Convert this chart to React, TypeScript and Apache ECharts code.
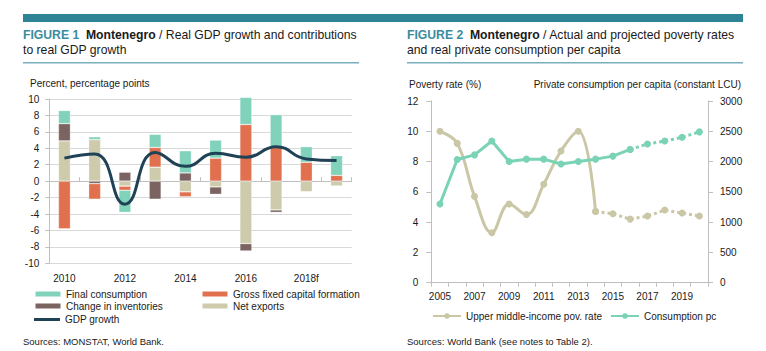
import React, { useEffect, useRef } from "react";
import * as echarts from "echarts";

// ---------- Figure 1 data ----------
const years1 = ["2010", "2011", "2012", "2013", "2014", "2015", "2016", "2017", "2018f", "2019f"];
const finalConsumption = [1.6, 0.35, -2.7, 1.6, 2.7, 2.2, 3.3, 3.9, 1.9, 2.4];
const grossFixedCapital = [-5.8, -1.9, -0.5, 2.4, -0.6, 2.8, 6.9, 4.2, 2.3, 0.7];
const changeInventories = [2.1, -0.3, 1.1, -2.2, 1.0, -0.9, -0.9, -0.3, 0, 0];
const netExports = [4.9, 5.05, -0.6, 1.7, -1.3, -0.7, -7.6, -3.5, -1.3, -0.6];
const gdpGrowth = [2.8, 3.3, -2.8, 3.5, 1.8, 3.4, 2.9, 4.2, 2.7, 2.5];

// ---------- Figure 2 data ----------
const years2 = ["2005", "2006", "2007", "2008", "2009", "2010", "2011", "2012", "2013", "2014", "2015", "2016", "2017", "2018", "2019", "2020"];
const povertyRate = [10.0, 9.2, 5.7, 3.3, 5.2, 4.5, 6.5, 8.7, 10.0, 4.7, 4.55, 4.2, 4.4, 4.8, 4.6, 4.4];
const povertyLastActual = 9; // 2014
const consumptionPc = [1300, 2035, 2110, 2340, 2000, 2040, 2040, 1960, 2000, 2040, 2090, 2200, 2290, 2340, 2400, 2490];
const consumptionLastActual = 11; // 2016

const FONT = "Liberation Sans";
const TXT = "#1a1a1a";
const C_TEAL = "#80D2BB";
const C_ORANGE = "#E0704E";
const C_BROWN = "#7B6361";
const C_TAN = "#CDCBAB";
const C_GDP = "#1F4256";
const C_POV = "#C9C7A5";
const C_CONS = "#79D3B4";
const AXIS_GRAY = "#BFBFBF";

export default function App() {
  const ref = useRef<HTMLDivElement>(null);

  useEffect(() => {
    document.body.style.margin = "0";
    const chart = echarts.init(ref.current!, undefined, { renderer: "svg" });

    const barBase = {
      type: "bar" as const,
      stack: "c",
      xAxisIndex: 0,
      yAxisIndex: 0,
      barWidth: 12,
      clip: false,
      itemStyle: { borderColor: "rgba(255,255,255,0.5)", borderWidth: 0.6 },
    };

    const solidPart = (arr: number[], last: number) => arr.map((v, i) => (i <= last ? v : null));
    const projPart = (arr: number[], last: number) => arr.map((v, i) => (i >= last ? v : null));

    const legendText = { fontFamily: FONT, fontSize: 10, color: TXT };
    const mkLegend = (name: string, left: number, top: number, w = 26, h = 6, extra: any = {}) => ({
      data: [name],
      left,
      top,
      itemWidth: w,
      itemHeight: h,
      itemGap: 0,
      padding: 0,
      textStyle: legendText,
      selectedMode: false,
      ...extra,
    });

    const TS = 12.2;
    const titleStyle = (txt: string) => ({
      text: txt,
      textStyle: {
        fontFamily: FONT,
        fontSize: TS,
        fontWeight: "normal" as const,
        color: TXT,
        lineHeight: 15,
        rich: {
          a: { color: "#3A8CA0", fontWeight: "bold" as const, fontSize: TS, fontFamily: FONT, lineHeight: 15 },
          b: { color: TXT, fontWeight: "bold" as const, fontSize: TS, fontFamily: FONT, lineHeight: 15 },
        },
      },
    });

    const option = {
      animation: false,
      backgroundColor: "#ffffff",
      textStyle: { fontFamily: FONT },
      title: [
        { left: 23, top: 27, padding: 0, ...titleStyle("{a|FIGURE 1}  {b|Montenegro} / Real GDP growth and contributions\nto real GDP growth") },
        { left: 407, top: 27, padding: 0, ...titleStyle("{a|FIGURE 2}  {b|Montenegro} / Actual and projected poverty rates\nand real private consumption per capita") },
      ],
      graphic: [
        { type: "rect", shape: { x: 23, y: 14, width: 720, height: 8 }, style: { fill: "#2E8494" } },
        { type: "rect", shape: { x: 23, y: 62, width: 336, height: 1.5 }, style: { fill: "#78B0BE" } },
        { type: "rect", shape: { x: 407, y: 62, width: 336, height: 1.5 }, style: { fill: "#78B0BE" } },
        { type: "text", x: 30, y: 83, style: { text: "Percent, percentage points", fontFamily: FONT, fontSize: 10, fill: TXT, verticalAlign: "middle" } },
        { type: "text", x: 409, y: 84, style: { text: "Poverty rate (%)", fontFamily: FONT, fontSize: 10, fill: TXT, verticalAlign: "middle" } },
        { type: "text", x: 741, y: 84, style: { text: "Private consumption per capita (constant LCU)", fontFamily: FONT, fontSize: 10, fill: TXT, align: "right", verticalAlign: "middle" } },
        { type: "text", x: 23, y: 341, style: { text: "Sources: MONSTAT, World Bank.", fontFamily: FONT, fontSize: 9.5, fill: TXT, verticalAlign: "middle" } },
        { type: "text", x: 407, y: 341, style: { text: "Sources: World Bank (see notes to Table 2).", fontFamily: FONT, fontSize: 9.5, fill: TXT, verticalAlign: "middle" } },
      ],
      legend: [
        mkLegend("Final consumption", 34, 289),
        mkLegend("Change in inventories", 34, 301),
        mkLegend("GDP growth", 34, 314.5, 26, 3, { icon: "rect" }),
        mkLegend("Gross fixed capital formation", 201, 289),
        mkLegend("Net exports", 201, 301),
        mkLegend("Upper middle-income pov. rate", 432, 311, 28, 7),
        mkLegend("Consumption pc", 610, 311, 28, 7),
      ],
      grid: [
        { left: 49.3, right: 414.3, top: 99, bottom: 87.7 },
        { left: 431.3, right: 58, top: 101, bottom: 68.3 },
      ],
      xAxis: [
        {
          type: "category",
          gridIndex: 0,
          data: years1,
          position: "bottom",
          axisLine: { show: false, onZero: false },
          axisTick: { show: false },
          axisLabel: { interval: 1, fontFamily: FONT, fontSize: 10, color: TXT, margin: 10 },
        },
        {
          type: "category",
          gridIndex: 0,
          data: years1,
          axisLine: { show: true, onZero: true, lineStyle: { color: AXIS_GRAY, width: 1 } },
          axisTick: { show: true, length: 4, interval: (i: number) => i % 2 === 1, lineStyle: { color: AXIS_GRAY } },
          axisLabel: { show: false },
        },
        {
          type: "category",
          gridIndex: 1,
          data: years2,
          axisLine: { show: true, lineStyle: { color: AXIS_GRAY, width: 1 } },
          axisTick: { show: true, length: 4, interval: 0, lineStyle: { color: AXIS_GRAY } },
          axisLabel: { interval: 1, fontFamily: FONT, fontSize: 10, color: TXT, margin: 9 },
        },
      ],
      yAxis: [
        {
          type: "value",
          gridIndex: 0,
          min: -10,
          max: 10,
          interval: 2,
          axisLine: { show: true, lineStyle: { color: AXIS_GRAY } },
          axisTick: { show: true, length: 4, lineStyle: { color: AXIS_GRAY } },
          splitLine: { show: true, lineStyle: { color: "#D9D9D9", width: 1 } },
          axisLabel: { fontFamily: FONT, fontSize: 10, color: TXT, margin: 10 },
        },
        {
          type: "value",
          gridIndex: 1,
          position: "left",
          min: 0,
          max: 12,
          interval: 2,
          axisLine: { show: true, lineStyle: { color: AXIS_GRAY } },
          axisTick: { show: true, length: 5, lineStyle: { color: AXIS_GRAY } },
          splitLine: { show: false },
          axisLabel: { fontFamily: FONT, fontSize: 10, color: TXT, margin: 13 },
        },
        {
          type: "value",
          gridIndex: 1,
          position: "right",
          min: 0,
          max: 3000,
          interval: 500,
          axisLine: { show: true, lineStyle: { color: AXIS_GRAY } },
          axisTick: { show: true, length: 5, lineStyle: { color: AXIS_GRAY } },
          splitLine: { show: false },
          axisLabel: { fontFamily: FONT, fontSize: 10, color: TXT, margin: 12, formatter: (v: number) => String(v) },
        },
      ],
      series: [
        { ...barBase, name: "Net exports", data: netExports, itemStyle: { ...barBase.itemStyle, color: C_TAN } },
        { ...barBase, name: "Change in inventories", data: changeInventories, itemStyle: { ...barBase.itemStyle, color: C_BROWN } },
        { ...barBase, name: "Gross fixed capital formation", data: grossFixedCapital, itemStyle: { ...barBase.itemStyle, color: C_ORANGE } },
        { ...barBase, name: "Final consumption", data: finalConsumption, itemStyle: { ...barBase.itemStyle, color: C_TEAL } },
        {
          type: "line",
          name: "GDP growth",
          xAxisIndex: 0,
          yAxisIndex: 0,
          data: gdpGrowth,
          smooth: 0.5,
          symbol: "none",
          lineStyle: { color: C_GDP, width: 3 },
          itemStyle: { color: C_GDP },
          z: 5,
        },
        {
          type: "line",
          name: "Upper middle-income pov. rate",
          xAxisIndex: 2,
          yAxisIndex: 1,
          data: solidPart(povertyRate, povertyLastActual),
          smooth: 0.4,
          symbol: "circle",
          symbolSize: 7,
          showSymbol: true,
          lineStyle: { color: C_POV, width: 3 },
          itemStyle: { color: C_POV },
        },
        {
          type: "line",
          name: "Upper middle-income pov. rate",
          xAxisIndex: 2,
          yAxisIndex: 1,
          data: projPart(povertyRate, povertyLastActual),
          symbol: "circle",
          symbolSize: 7,
          showSymbol: true,
          lineStyle: { color: C_POV, width: 3, type: "dotted" },
          itemStyle: { color: C_POV },
        },
        {
          type: "line",
          name: "Consumption pc",
          xAxisIndex: 2,
          yAxisIndex: 2,
          data: solidPart(consumptionPc, consumptionLastActual),
          symbol: "circle",
          symbolSize: 7,
          showSymbol: true,
          lineStyle: { color: C_CONS, width: 3 },
          itemStyle: { color: C_CONS },
        },
        {
          type: "line",
          name: "Consumption pc",
          xAxisIndex: 2,
          yAxisIndex: 2,
          data: projPart(consumptionPc, consumptionLastActual),
          symbol: "circle",
          symbolSize: 7,
          showSymbol: true,
          lineStyle: { color: C_CONS, width: 3, type: "dotted" },
          itemStyle: { color: C_CONS },
        },
      ],
    };

    chart.setOption(option as any);
    return () => chart.dispose();
  }, []);

  return <div ref={ref} style={{ width: 766, height: 351, position: "absolute", left: 0, top: 0 }} />;
}
